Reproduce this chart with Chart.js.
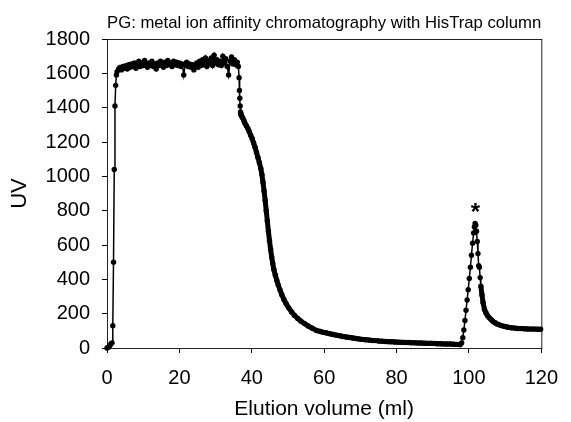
<!DOCTYPE html>
<html>
<head>
<meta charset="utf-8">
<script src="https://cdn.jsdelivr.net/npm/chart.js@4"></script>
<style>
  html, body { margin: 0; padding: 0; background: #fff; }
  #wrap { width: 571px; height: 422px; }
</style>
</head>
<body>
<div id="wrap"><canvas id="grafico"></canvas></div>
<script>
// elution volume (ml) and UV reading
const volume = [
    0, 0.4, 0.8, 1.1, 1.4, 1.6, 1.8, 2.0, 2.2, 2.4, 2.6,
    2.8, 3.2, 3.6, 4.0, 4.4, 4.8, 5.2, 5.6, 6.0, 6.4,
    6.8, 7.2, 7.6, 8.0, 8.4, 8.8, 9.2, 9.6, 10.0, 10.4,
    10.8, 11.2, 11.6, 12.0, 12.4, 12.8, 13.2, 13.6, 14.0, 14.4,
    14.8, 15.2, 15.6, 16.0, 16.4, 16.8, 17.2, 17.6, 18.0, 18.4,
    18.8, 19.2, 19.6, 20.0, 20.4, 20.8, 21.2, 21.6, 22.0, 22.4,
    22.8, 23.2, 23.6, 24.0, 24.4, 24.8, 25.2, 25.6, 26.0, 26.4,
    26.8, 27.2, 27.6, 28.0, 28.4, 28.8, 29.2, 29.6, 30.0, 30.4,
    30.8, 31.2, 31.6, 32.0, 32.4, 32.8, 33.2, 33.6, 34.0, 34.4,
    34.8, 35.2, 35.6, 36.0, 36.3,
    36.5, 36.6, 36.7, 36.8, 36.9, 37.0, 37.2, 37.5, 37.8, 38.1,
    38.5, 38.9, 39.3, 39.7, 40.1, 40.5, 40.9, 41.3, 41.7, 42.1,
    42.5, 42.8, 43.1, 43.4, 43.7, 44.0, 44.3, 44.6, 44.9, 45.2,
    45.5, 45.8, 46.1, 46.5, 46.9, 47.3, 47.8, 48.3, 48.9, 49.5,
    50.2, 51.0, 51.8, 52.7, 53.6, 54.6, 55.6, 56.7, 57.9,
    58.9, 59.8, 60.7, 61.6, 62.5, 63.4, 64.3, 65.2, 66.1, 67.0,
    67.9, 68.8, 69.7, 70.6, 71.5, 72.4, 73.3, 74.2, 75.1, 76.0,
    76.9, 77.8, 78.7, 79.6, 80.5, 81.4, 82.3, 83.2, 84.1, 85.0,
    85.9, 86.8, 87.7, 88.6, 89.5, 90.4, 91.3, 92.2, 93.1, 94.0,
    94.9, 95.8, 96.7, 97.6,
    98.0, 98.3, 98.6, 98.9, 99.2, 99.5, 99.8, 100.1, 100.4, 100.7,
    101.0, 101.3, 101.5, 101.7, 101.9, 102.1, 102.3, 102.5, 102.7, 102.9,
    103.1, 103.3, 103.6, 103.9, 104.3, 104.7, 105.1, 105.6, 106.1, 106.6,
    107.2, 107.8, 108.5, 109.2, 110.0, 110.8, 111.7, 112.6, 113.5, 114.4,
    115.3, 116.2, 117.1, 118.0, 118.9, 119.8
];
const uv = [
    0, 5, 15, 25, 30, 130, 500, 1040, 1410, 1530, 1590,
    1610, 1625, 1635, 1620, 1640, 1630, 1645, 1625, 1650, 1635,
    1655, 1640, 1660, 1630, 1655, 1670, 1640, 1660, 1645, 1675,
    1650, 1635, 1660, 1645, 1670, 1640, 1655, 1625, 1660, 1645,
    1670, 1650, 1635, 1665, 1645, 1675, 1650, 1660, 1640, 1670,
    1650, 1665, 1645, 1660, 1640, 1655, 1590, 1650, 1665, 1640,
    1655, 1635, 1650, 1620, 1645, 1660, 1635, 1670, 1645, 1680,
    1650, 1690, 1640, 1675, 1655, 1690, 1645, 1705, 1660, 1680,
    1650, 1670, 1645, 1700, 1660, 1685, 1640, 1590, 1670, 1695,
    1655, 1680, 1650, 1665, 1640,
    1575, 1500, 1455, 1410, 1375, 1360, 1350, 1340, 1325, 1310,
    1295, 1280, 1260, 1240, 1220, 1195, 1170, 1140, 1110, 1080,
    1045, 1010, 965, 915, 860, 800, 740, 680, 625, 575,
    530, 492, 458, 425, 395, 368, 338, 310, 282, 258,
    234, 210, 190, 172, 156, 142, 128, 115, 102,
    96, 91, 87, 83, 79, 75, 71, 67, 64, 61,
    58, 55, 52, 50, 48, 46, 44, 43, 41, 40,
    38, 37, 36, 35, 34, 33, 32, 32, 31, 30,
    29, 29, 28, 27, 27, 26, 25, 25, 24, 23,
    23, 22, 21, 20,
    30, 60, 105, 160, 220, 280, 340, 405, 470, 540,
    610, 670, 705, 725, 715, 680, 620, 550, 480, 470,
    410, 360, 310, 265, 225, 205, 190, 177, 166, 156,
    147, 140, 134, 129, 125, 121, 118, 116, 114, 113,
    112, 111, 110, 110, 109, 109
];
const xTicks = [0, 20, 40, 60, 80, 100, 120];
const yTicks = [0, 200, 400, 600, 800, 1000, 1200, 1400, 1600, 1800];
const peakMark = { x: 101.8, y: 745, text: '*' };

const fonte = "'Liberation Sans', Arial, sans-serif";
Chart.defaults.color = '#000';
Chart.defaults.font.family = fonte;

const pontos = volume.map((v, i) => ({ x: v, y: uv[i] }));

// caixa em volta da área do gráfico
const moldura = {
    id: 'moldura',
    beforeDatasetsDraw(chart) {
        const { ctx, chartArea: a } = chart;
        ctx.save();
        ctx.strokeStyle = '#222';
        ctx.lineWidth = 1;
        ctx.strokeRect(a.left + 0.5, a.top + 0.5, a.right - a.left, a.bottom - a.top);
        ctx.restore();
    }
};

// asterisco sobre o pico
const asterisco = {
    id: 'asterisco',
    afterDatasetsDraw(chart) {
        const { ctx, scales } = chart;
        ctx.save();
        ctx.fillStyle = '#000';
        ctx.font = 'bold 24px ' + fonte;
        ctx.textAlign = 'center';
        ctx.textBaseline = 'alphabetic';
        ctx.fillText(peakMark.text, scales.x.getPixelForValue(peakMark.x), scales.y.getPixelForValue(peakMark.y));
        ctx.restore();
    }
};

// trechos com pontos muito densos no original -> traço mais grosso
const larguraTraco = (ctx) => {
    const x0 = ctx.p0.parsed.x;
    return ((x0 > 36.8 && x0 < 98) || x0 > 103.2) ? 5 : 1.5;
};

new Chart(document.getElementById('grafico'), {
    type: 'scatter',
    data: {
        datasets: [{
            data: pontos,
            showLine: true,
            borderColor: '#000',
            borderWidth: 1.5,
            segment: { borderWidth: larguraTraco },
            backgroundColor: '#000',
            pointRadius: 2.7,
            pointBorderWidth: 0,
            clip: false
        }]
    },
    options: {
        responsive: true,
        maintainAspectRatio: false,
        animation: false,
        layout: { padding: { left: 0, right: 23, top: 0, bottom: 0 } },
        plugins: {
            legend: { display: false },
            tooltip: { enabled: false },
            title: {
                display: true,
                fullSize: false,
                text: 'PG: metal ion affinity chromatography with HisTrap column',
                font: { size: 17, weight: 'normal' },
                padding: { top: 13, bottom: 5.6 }
            }
        },
        scales: {
            x: {
                type: 'linear',
                min: 0, max: 120,
                afterBuildTicks: (s) => { s.ticks = xTicks.map(v => ({ value: v })); },
                afterFit: (s) => { s.height = 74; },
                grid: { drawOnChartArea: false, drawTicks: true, tickLength: 5, color: '#000' },
                border: { display: true, color: '#222' },
                ticks: { font: { size: 20 }, padding: 13, maxRotation: 0, callback: (v) => String(v) },
                title: { display: true, text: 'Elution volume (ml)', font: { size: 21 }, padding: { top: 0, bottom: 0 } }
            },
            y: {
                min: 0, max: 1800,
                afterBuildTicks: (s) => { s.ticks = yTicks.map(v => ({ value: v })); },
                afterFit: (s) => { s.width = 107; },
                grid: { drawOnChartArea: false, drawTicks: true, tickLength: 5, color: '#000' },
                border: { display: true, color: '#222' },
                ticks: { font: { size: 20 }, padding: 12, callback: (v) => String(v) },
                title: { display: true, text: 'UV', font: { size: 22 }, padding: { top: 7, bottom: 0 } }
            }
        }
    },
    plugins: [moldura, asterisco]
});
</script>
</body>
</html>
